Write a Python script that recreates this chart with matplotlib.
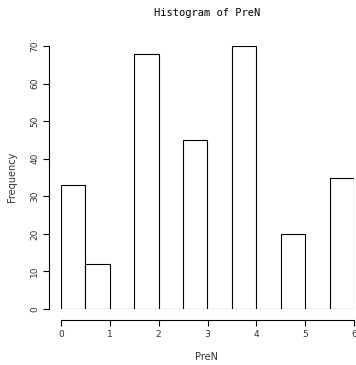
import numpy as np
import matplotlib
matplotlib.use("Agg")
import matplotlib.pyplot as plt

# histogram of PreN, bins of width 0.5
edges = [0, 0.5, 1, 1.5, 2, 2.5, 3, 3.5, 4, 4.5, 5, 5.5, 6]
counts = [33, 12, 0, 68, 0, 45, 0, 70, 0, 20, 0, 35]
xticks = [0, 1, 2, 3, 4, 5, 6]
yticks = [0, 10, 20, 30, 40, 50, 60, 70]

W, H = 356, 365
fig = plt.figure(figsize=(W / 100, H / 100), dpi=100)
ax = fig.add_axes([61 / W, (H - 309) / H, 293 / W, 263 / H])

lefts = np.array(edges[:-1])
ax.bar(lefts, counts, width=np.diff(edges), align="edge",
       facecolor="white", edgecolor="black", linewidth=0.8)

ax.set_xlim(0, 6)
ax.set_ylim(0, 70)
for s in ["top", "right"]:
    ax.spines[s].set_visible(False)
ax.spines["left"].set_position(("outward", 8.6))
ax.spines["bottom"].set_position(("outward", 8))
ax.spines["left"].set_bounds(0, 70)
ax.spines["bottom"].set_bounds(0, 6)
for s in ["left", "bottom"]:
    ax.spines[s].set_linewidth(0.8)

ax.set_xticks(xticks)
ax.set_yticks(yticks)
ax.set_yticklabels([str(v) for v in yticks], rotation=90, va="center")
ax.tick_params(length=4, width=0.8, labelsize=6.5, labelcolor="#333333", pad=3)

fig.text(207 / W, 1 - 357 / H, "PreN", ha="center", va="center",
         fontsize=7, color="#333333")
fig.text(12 / W, 1 - 177 / H, "Frequency", ha="center", va="center",
         rotation=90, fontsize=7, color="#333333")
fig.text(207 / W, 1 - 13 / H, "Histogram of PreN", ha="center", va="center",
         fontsize=7.5, family="DejaVu Sans Mono")

fig.savefig("out.png", dpi=100)
